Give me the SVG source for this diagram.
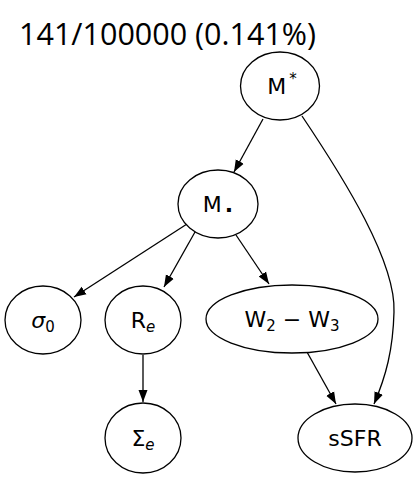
<svg xmlns="http://www.w3.org/2000/svg" width="417" height="479" viewBox="0 0 417 479">
<style>
.n ellipse{fill:#fff;stroke:#000;stroke-width:1.3}
.n text{font-family:"DejaVu Sans",sans-serif;font-size:22px;fill:#000;text-anchor:middle}
.it{font-style:italic}
.e path{fill:none;stroke:#000;stroke-width:1.3;marker-end:url(#ah)}
.title{font-family:"Open Sans",sans-serif;font-size:30.5px;fill:#000}
</style>
<defs>
<marker id="ah" markerUnits="userSpaceOnUse" markerWidth="13" markerHeight="10" refX="12" refY="4.5" orient="auto" viewBox="0 0 13 9">
<polygon points="0,0 12,4.5 0,9" fill="#000"/>
</marker>
</defs>
<rect width="417" height="479" fill="#fff"/>
<text class="title" x="19" y="45">141/100000 (0.141%)</text>
<g class="e" id="edges">
<path d="M263,119 L234,172"/>
<path d="M302,116 C345,180 396,262 394,312 C393,350 386,376 374,404"/>
<path d="M187,224 L74,297"/>
<path d="M195,232 L164,287"/>
<path d="M236,235 L269,284"/>
<path d="M143,355 L143,402"/>
<path d="M307,352 L336,404"/>
</g>
<g class="n" id="Mstar">
<ellipse cx="280" cy="86" rx="39.5" ry="34"/>
<text x="282" y="94">M<tspan font-size="15" dx="3" dy="-10">*</tspan></text>
</g>
<g class="n" id="Mdot">
<ellipse cx="218" cy="204" rx="40" ry="34"/>
<text x="218" y="212">M<tspan font-weight="bold" dx="3">.</tspan></text>
</g>
<g class="n" id="sigma0">
<ellipse cx="43" cy="320" rx="38" ry="34"/>
<text x="43" y="328"><tspan class="it">σ</tspan><tspan font-size="15" dy="4">0</tspan></text>
</g>
<g class="n" id="Re">
<ellipse cx="143" cy="320" rx="38" ry="34"/>
<text x="143" y="328">R<tspan class="it" font-size="15" dy="4">e</tspan></text>
</g>
<g class="n" id="W2W3">
<ellipse cx="292" cy="319" rx="86" ry="34"/>
<text x="292" y="327">W<tspan font-size="15" dy="4">2</tspan><tspan dy="-4"> − W</tspan><tspan font-size="15" dy="4">3</tspan></text>
</g>
<g class="n" id="SigmaE">
<ellipse cx="143" cy="438" rx="38" ry="35"/>
<text x="143" y="446">Σ<tspan class="it" font-size="15" dy="4">e</tspan></text>
</g>
<g class="n" id="sSFR">
<ellipse cx="355" cy="438" rx="57" ry="34"/>
<text x="355" y="446">sSFR</text>
</g>
</svg>
